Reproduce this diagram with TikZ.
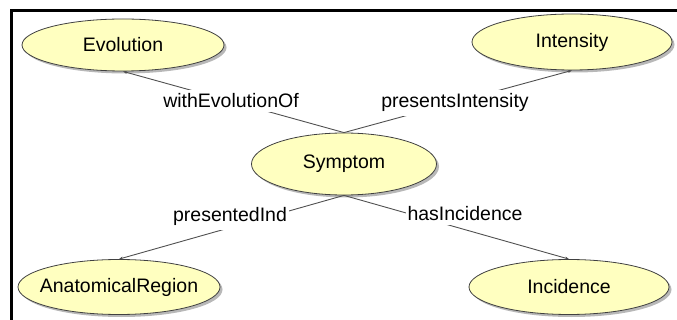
\documentclass[tikz,border=0pt]{standalone}
\usepackage{fontspec}
\setmainfont{Liberation Sans}
\usetikzlibrary{shapes.geometric,shadows,arrows.meta}
\definecolor{classfill}{HTML}{FFFFC0}
\definecolor{classline}{HTML}{404040}
\definecolor{edgeline}{HTML}{505050}
\newcommand{\clsname}[1]{\makebox[0pt]{#1}}
\begin{document}
\begin{tikzpicture}[x=1pt,y=-1pt,
  every node/.style={font=\fontsize{19.5}{22}\selectfont},
  cls/.style={ellipse, draw=classline, line width=0.8pt, fill=classfill,
    inner sep=0pt,
    drop shadow={shadow xshift=2.5pt, shadow yshift=-2.5pt, fill=black!35, opacity=0.8}},
  rel/.style={draw=edgeline, line width=0.9pt, -{Stealth[length=4pt,width=3pt]}},
  rellabel/.style={fill=white, inner xsep=2pt, inner ysep=4pt, anchor=base}
]
\useasboundingbox (0,0) rectangle (677,320);

% frame edges
\draw[line width=2.5pt] (677,10.5) -- (11.5,10.5) -- (11.5,320);

% classes
\node[cls, minimum width=202pt, minimum height=52pt] (evo) at (123,45) {\clsname{Evolution}};
\node[cls, minimum width=200pt, minimum height=56pt] (int) at (572,42) {\clsname{Intensity}};
\node[cls, minimum width=185pt, minimum height=62pt] (sym) at (344,164) {\clsname{Symptom}};
\node[cls, minimum width=202pt, minimum height=55pt] (ana) at (119,287) {\clsname{AnatomicalRegion}};
\node[cls, minimum width=200pt, minimum height=55pt] (inc) at (569,287) {\clsname{Incidence}};

% relations
\draw[rel] (sym.north) -- (evo.south);
\draw[rel] (sym.north) -- (int.south);
\draw[rel] (sym.south) -- (ana.north);
\draw[rel] (sym.south) -- (inc.north);

% relation labels
\node[rellabel] (l1) at (231,108) {withEvolutionOf};
\node[rellabel] (l2) at (455,108) {presentsIntensity};
\node[rellabel] (l3) at (230,221.5) {presentedInd};
\node[rellabel] (l4) at (465,220.5) {hasIncidence};
\end{tikzpicture}
\end{document}
